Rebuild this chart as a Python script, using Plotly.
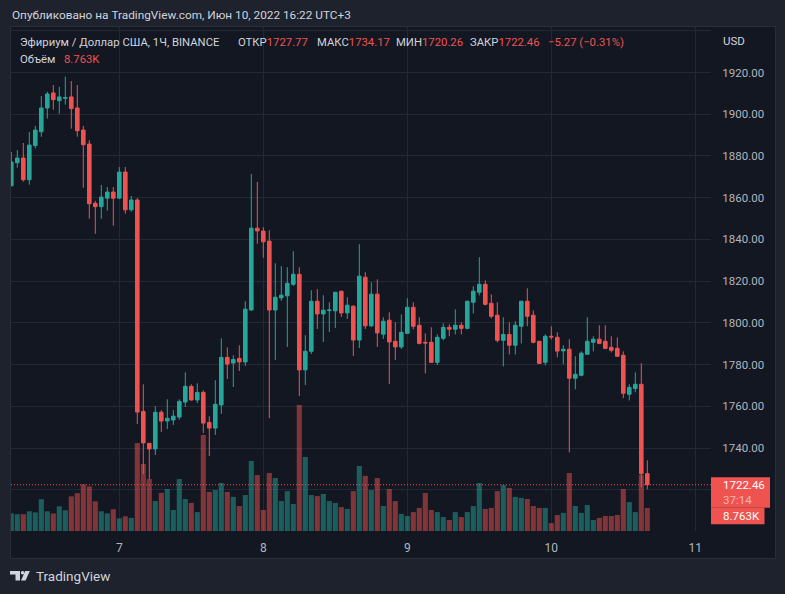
import plotly.graph_objects as go
import pandas as pd

# ---------------- data (ETH/USD, 1h, Binance) ----------------
start_time = "2022-06-06 06:00"
opens = [1865.7, 1876.8, 1879.0, 1868.6, 1885.0, 1891.6, 1903.0, 1910.2, 1906.5, 1907.6,
         1908.3, 1903.0, 1892.4, 1885.7, 1857.3, 1855.7, 1859.8, 1862.7, 1859.8, 1872.3,
         1854.2, 1858.9, 1757.6, 1742.3, 1739.6, 1757.2, 1753.0, 1753.5, 1754.9, 1762.1,
         1769.6, 1763.1, 1766.7, 1752.3, 1749.6, 1760.7, 1783.5, 1780.8, 1783.0, 1781.3,
         1806.2, 1845.4, 1844.0, 1839.2, 1806.2, 1812.0, 1813.0, 1818.5, 1823.3, 1777.5,
         1786.4, 1810.4, 1804.3, 1805.9, 1805.8, 1815.2, 1804.8, 1808.0, 1791.8, 1821.9,
         1798.6, 1813.8, 1794.6, 1801.3, 1791.2, 1788.5, 1795.0, 1807.5, 1798.9, 1790.7,
         1790.7, 1781.1, 1792.6, 1797.9, 1797.0, 1798.9, 1797.4, 1809.9, 1814.7, 1818.5,
         1809.4, 1803.7, 1791.7, 1794.5, 1789.3, 1798.4, 1810.4, 1803.7, 1791.2, 1781.1,
         1793.6, 1793.1, 1786.6, 1787.4, 1773.5, 1774.9, 1785.0, 1790.7, 1792.2, 1791.2,
         1788.3, 1787.8, 1784.5, 1765.8, 1768.6, 1770.6, 1727.77]
highs = [1881.9, 1882.8, 1886.2, 1891.5, 1894.4, 1908.7, 1910.8, 1914.0, 1913.1, 1918.0,
         1915.9, 1914.0, 1894.4, 1887.6, 1858.5, 1866.1, 1865.1, 1865.1, 1874.7, 1874.7,
         1860.8, 1859.8, 1770.6, 1742.5, 1760.1, 1758.2, 1763.4, 1758.2, 1763.4, 1776.3,
         1770.6, 1771.1, 1767.7, 1755.2, 1772.5, 1792.6, 1788.3, 1784.5, 1789.3, 1810.4,
         1871.3, 1867.5, 1845.9, 1844.4, 1828.6, 1827.2, 1826.7, 1834.4, 1826.7, 1794.1,
         1815.7, 1816.2, 1813.3, 1809.9, 1814.9, 1815.4, 1812.3, 1808.5, 1837.7, 1824.3,
         1819.5, 1820.9, 1802.7, 1805.1, 1800.3, 1804.1, 1811.8, 1809.9, 1802.7, 1795.0,
         1797.9, 1794.5, 1799.8, 1799.3, 1806.5, 1800.3, 1810.6, 1817.6, 1831.5, 1820.4,
         1813.7, 1809.9, 1802.7, 1800.3, 1800.8, 1810.6, 1816.6, 1806.0, 1791.4, 1794.5,
         1798.4, 1795.5, 1789.3, 1792.2, 1784.0, 1786.4, 1802.7, 1793.6, 1798.9, 1798.9,
         1793.6, 1793.1, 1786.4, 1770.6, 1776.3, 1780.7, 1734.17]
lows = [1865.5, 1874.4, 1867.7, 1866.2, 1883.6, 1889.2, 1897.9, 1902.2, 1900.3, 1904.6,
        1893.1, 1889.2, 1864.8, 1849.9, 1842.7, 1849.9, 1853.8, 1846.6, 1859.5, 1852.3,
        1853.3, 1751.6, 1727.6, 1725.1, 1736.7, 1747.8, 1749.2, 1751.1, 1753.6, 1759.7,
        1762.8, 1761.6, 1747.2, 1736.2, 1746.3, 1756.4, 1773.1, 1769.3, 1777.0, 1779.4,
        1805.8, 1837.9, 1831.2, 1754.4, 1782.3, 1810.6, 1788.5, 1817.7, 1765.0, 1770.3,
        1785.1, 1797.1, 1790.9, 1795.7, 1797.6, 1802.9, 1801.9, 1784.2, 1788.0, 1797.1,
        1798.1, 1788.5, 1792.3, 1770.7, 1782.2, 1787.5, 1794.8, 1796.9, 1789.7, 1775.8,
        1780.9, 1779.8, 1791.7, 1793.6, 1794.5, 1794.5, 1796.9, 1804.6, 1813.2, 1808.4,
        1802.2, 1790.7, 1779.2, 1784.9, 1784.9, 1790.2, 1798.4, 1790.2, 1780.4, 1779.7,
        1792.1, 1783.5, 1780.2, 1738.0, 1768.2, 1774.4, 1784.8, 1786.4, 1789.8, 1787.4,
        1785.9, 1783.8, 1763.9, 1762.9, 1766.8, 1721.2, 1720.26]
closes = [1877.1, 1879.0, 1868.6, 1885.2, 1892.4, 1903.0, 1909.7, 1907.0, 1908.3, 1908.0,
          1902.7, 1892.1, 1885.4, 1857.1, 1855.7, 1860.3, 1862.7, 1859.8, 1872.3, 1854.2,
          1858.9, 1757.3, 1742.5, 1739.6, 1757.2, 1753.0, 1754.3, 1755.3, 1762.4, 1769.6,
          1763.1, 1766.7, 1752.0, 1749.6, 1761.0, 1783.5, 1780.3, 1782.5, 1781.3, 1806.6,
          1845.4, 1844.1, 1838.9, 1806.2, 1812.3, 1813.3, 1819.0, 1823.3, 1777.5, 1786.4,
          1810.4, 1804.3, 1806.1, 1806.2, 1814.7, 1804.8, 1808.5, 1791.8, 1822.4, 1798.6,
          1813.8, 1795.2, 1800.8, 1790.9, 1788.5, 1795.5, 1807.5, 1798.4, 1790.2, 1790.4,
          1781.1, 1793.1, 1797.9, 1797.0, 1798.9, 1797.4, 1810.4, 1815.2, 1818.5, 1808.9,
          1803.2, 1791.7, 1794.5, 1789.3, 1798.9, 1810.4, 1803.2, 1790.7, 1780.6, 1793.6,
          1793.3, 1786.5, 1787.4, 1773.5, 1775.4, 1785.5, 1791.2, 1792.2, 1790.2, 1787.8,
          1786.9, 1784.0, 1766.3, 1769.1, 1770.6, 1727.73, 1722.46]
volumes_k = [6.7, 6.4, 6.4, 7.5, 7.1, 12.1, 7.5, 6.7, 9.4, 7.9,
             13.2, 14.4, 17.8, 17.0, 11.3, 7.5, 6.7, 8.3, 4.8, 5.6,
             5.0, 33.5, 25.5, 19.8, 11.4, 14.5, 16.0, 8.0, 19.8, 12.2,
             10.7, 7.2, 36.6, 14.9, 15.6, 18.3, 14.9, 13.0, 9.5, 13.7,
             26.7, 21.3, 8.0, 22.1, 20.2, 11.4, 15.2, 10.3, 48.0, 28.2,
             13.7, 13.3, 14.1, 11.4, 10.7, 9.1, 8.4, 15.2, 24.8, 21.0,
             15.6, 20.2, 9.5, 16.0, 11.4, 6.5, 5.7, 7.2, 8.8, 14.5,
             8.0, 7.2, 5.3, 4.2, 7.2, 5.3, 7.2, 9.5, 18.3, 8.4,
             8.8, 15.2, 17.5, 16.4, 13.0, 12.6, 12.2, 9.5, 8.8, 8.8,
             3.0, 6.1, 6.9, 22.1, 9.5, 6.9, 9.9, 4.2, 5.0, 5.7,
             5.7, 6.1, 16.0, 11.0, 7.2, 21.3, 8.763]

price_ticks = [1720, 1740, 1760, 1780, 1800, 1820, 1840, 1860, 1880, 1900, 1920, 1940]
price_tick_labels = ["", "1740.00", "1760.00", "1780.00", "1800.00", "1820.00", "1840.00",
                     "1860.00", "1880.00", "1900.00", "1920.00", ""]
day_ticks = ["2022-06-07", "2022-06-08", "2022-06-09", "2022-06-10", "2022-06-11"]
day_labels = ["7", "8", "9", "10", "11"]

header_text = "Опубликовано на TradingView.com, Июн 10, 2022 16:22 UTC+3"
symbol_text = "Эфириум / Доллар США, 1Ч, BINANCE"
countdown_text = "37:14"

# ---------------- style ----------------
FONT = "Roboto"
BG_OUT = "#1e222d"
BG_PANEL = "#131722"
GRID = "#242834"
BORDER = "#2a2e39"
UP = "#26a69a"
DOWN = "#ef5350"
UP_VOL = "rgba(38,166,154,0.5)"
DOWN_VOL = "rgba(239,83,80,0.5)"
TXT = "#d1d4dc"
AXT = "#b2b5be"
LEG = 11.3

W, H = 785, 594
PL, PR, PT, PB = 11, 711, 27, 531   # plot area in pixels


def px(x):
    return (x - PL) / (PR - PL)


def py(y):
    return (PB - y) / (PB - PT)


times = pd.date_range(start_time, periods=len(opens), freq="h")
vol_colors = [UP_VOL if c >= o else DOWN_VOL for o, c in zip(opens, closes)]

fig = go.Figure()
fig.add_trace(go.Bar(x=times, y=volumes_k, marker=dict(color=vol_colors, line=dict(width=0)),
                     yaxis="y", hoverinfo="skip", showlegend=False))
fig.add_trace(go.Candlestick(
    x=times, open=opens, high=highs, low=lows, close=closes, yaxis="y2",
    increasing=dict(fillcolor=UP, line=dict(color=UP, width=1)),
    decreasing=dict(fillcolor=DOWN, line=dict(color=DOWN, width=1)),
    whiskerwidth=0, showlegend=False))

last_o, last_h, last_l, last_c = opens[-1], highs[-1], lows[-1], closes[-1]
chg = last_c - closes[-2]
pct = chg / closes[-2] * 100


def fmt_signed(v, suffix=""):
    s = f"{abs(v):.2f}{suffix}"
    return ("−" if v < 0 else "+") + s


def red(s):
    return f"<span style='color:{DOWN}'>{s}</span>"


annotations = []


def ann(text, x, y, color, size=12, xanchor="left", **kw):
    d = dict(text=text, xref="paper", yref="paper", x=px(x), y=py(y), xanchor=xanchor,
             yanchor="middle", showarrow=False, font=dict(color=color, size=size, family=FONT))
    d.update(kw)
    annotations.append(d)


ann(header_text, 10, 15, TXT, 11.8)
ann(symbol_text, 18, 42, TXT, LEG)
ann("ОТКР" + red(f"{last_o:.2f}"), 236, 42, TXT, LEG)
ann("МАКС" + red(f"{last_h:.2f}"), 315, 42, TXT, LEG)
ann("МИН" + red(f"{last_l:.2f}"), 394, 42, TXT, LEG)
ann("ЗАКР" + red(f"{last_c:.2f}"), 468, 42, TXT, LEG)
ann(f"{fmt_signed(chg)} ({fmt_signed(pct, '%')})", 546, 42, DOWN, LEG)
ann("Объём", 18, 59, TXT, LEG)
ann(f"{volumes_k[-1]:.3f}K", 62, 59, DOWN, LEG)
ann("USD", 721, 41, TXT, 11.5)
ann("TradingView", 34, 576, TXT, 13.5)

# last price / countdown / volume labels on the price scale
for txt, shift, col in [(f"{last_c:.2f}", 0, "#ffffff"), (countdown_text, -15, "#f9b3b2"),
                        (f"{volumes_k[-1]:.3f}K", -31, "#ffffff")]:
    annotations.append(dict(text=txt, xref="paper", yref="y2", x=px(721.5), y=last_c,
                            xanchor="left", yanchor="middle", yshift=shift, showarrow=False,
                            font=dict(color=col, size=11.5, family=FONT)))

shapes = [
    # chart panel
    dict(type="rect", xref="paper", yref="paper", x0=px(10.5), x1=px(775.5), y0=py(558.5), y1=py(26.5),
         fillcolor=BG_PANEL, line=dict(color=BORDER, width=1), layer="below"),
    # last price dotted line
    dict(type="line", xref="paper", yref="y2", x0=0, x1=1, y0=last_c, y1=last_c,
         line=dict(color=DOWN, width=1, dash="1px,2px")),
    # last price box
    dict(type="rect", xref="paper", yref="y2", ysizemode="pixel", yanchor=last_c,
         x0=1.0, x1=px(770), y0=7.5, y1=-23, fillcolor=DOWN, line=dict(width=0)),
    # volume box
    dict(type="rect", xref="paper", yref="y2", ysizemode="pixel", yanchor=last_c,
         x0=1.0, x1=px(764.5), y0=-23, y1=-39.5, fillcolor=DOWN, line=dict(width=0)),
]


# TradingView logo (footer decoration)
def path(pts):
    return "M " + " L ".join(f"{px(a):.5f} {py(b):.5f}" for a, b in pts) + " Z"


shapes.append(dict(type="path", xref="paper", yref="paper",
                   path=path([(10, 571), (20, 571), (20, 580.5), (15.5, 580.5), (15.5, 574.5), (10, 574.5)]),
                   fillcolor=TXT, line=dict(width=0)))
shapes.append(dict(type="circle", xref="paper", yref="paper", x0=px(20.8), x1=px(24.4),
                   y0=py(574.6), y1=py(571), fillcolor=TXT, line=dict(width=0)))
shapes.append(dict(type="path", xref="paper", yref="paper",
                   path=path([(25.2, 571), (29.8, 571), (25.6, 580.5), (21, 580.5)]),
                   fillcolor=TXT, line=dict(width=0)))

fig.update_layout(
    width=W, height=H,
    margin=dict(l=PL, r=W - PR, t=PT, b=H - PB, pad=0),
    paper_bgcolor=BG_OUT, plot_bgcolor=BG_PANEL,
    bargap=0.15, boxgap=0.15,
    showlegend=False, hovermode=False,
    xaxis=dict(type="date", range=["2022-06-06 05:57", "2022-06-11 02:37"],
               tickvals=day_ticks, ticktext=day_labels,
               showgrid=True, gridcolor=GRID, gridwidth=1, zeroline=False, showline=False,
               ticks="outside", ticklen=6, tickcolor="rgba(0,0,0,0)",
               tickfont=dict(color=AXT, size=12, family=FONT),
               rangeslider=dict(visible=False), fixedrange=True),
    yaxis=dict(range=[0, 192.0], visible=False, fixedrange=True),
    yaxis2=dict(overlaying="y", side="right", anchor="x", range=[1700.3, 1941.8],
                tickvals=price_ticks, ticktext=price_tick_labels,
                showgrid=True, gridcolor=GRID, gridwidth=1, zeroline=False, showline=False,
                ticks="outside", ticklen=8, tickcolor="rgba(0,0,0,0)",
                tickfont=dict(color=AXT, size=11.5, family=FONT), fixedrange=True),
    annotations=annotations,
    shapes=shapes,
    font=dict(family=FONT, color=TXT),
)

fig.write_html("out.html", config=dict(displayModeBar=False))
